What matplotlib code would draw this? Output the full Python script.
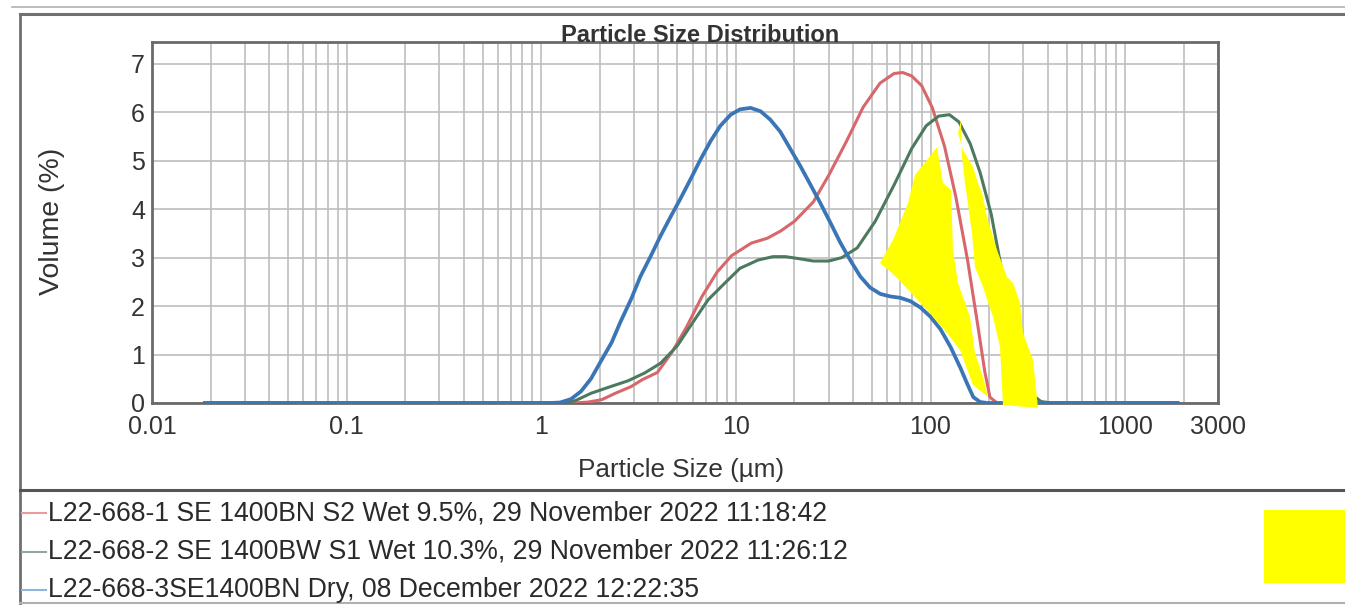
import matplotlib
matplotlib.use("Agg")
import matplotlib.pyplot as plt
from matplotlib.lines import Line2D
from matplotlib.patches import Polygon
from matplotlib.ticker import FixedLocator, NullFormatter

plt.rcParams['font.family'] = ['Liberation Sans', 'DejaVu Sans']

# data (size in um, volume in %)
red_x = [0.0187, 1.40, 1.48, 1.75, 2.05, 2.40, 2.90, 3.30, 3.95, 4.70, 5.60, 6.70, 8.00, 9.50, 12.0, 14.5, 17.0, 20.0, 25.0, 30.0, 37.0, 45.0, 55.0, 65.0, 72.0, 80.0, 90.0, 102.0, 118.0, 135.0, 155.0, 175.0, 190.0, 202.0, 220.0, 1860.0]
red_y = [0.0, 0.0, 0.0, 0.02, 0.07, 0.20, 0.34, 0.48, 0.63, 1.05, 1.58, 2.20, 2.70, 3.04, 3.30, 3.40, 3.55, 3.75, 4.15, 4.70, 5.40, 6.10, 6.60, 6.80, 6.82, 6.75, 6.55, 6.10, 5.30, 4.25, 2.95, 1.60, 0.65, 0.12, 0.0, 0.0]

green_x = [0.0187, 1.30, 1.50, 1.80, 2.20, 2.80, 3.40, 4.10, 5.00, 6.00, 7.20, 8.80, 10.5, 13.0, 15.5, 18.0, 21.0, 25.0, 30.0, 35.0, 42.0, 52.0, 65.0, 80.0, 95.0, 110.0, 125.0, 140.0, 160.0, 180.0, 205.0, 232.0, 260.0, 290.0, 330.0, 370.0, 420.0, 1860.0]
green_y = [0.0, 0.0, 0.05, 0.20, 0.32, 0.46, 0.62, 0.82, 1.18, 1.66, 2.13, 2.48, 2.78, 2.95, 3.02, 3.02, 2.98, 2.93, 2.93, 3.00, 3.20, 3.75, 4.50, 5.25, 5.72, 5.92, 5.95, 5.80, 5.35, 4.75, 3.90, 2.75, 1.60, 0.70, 0.18, 0.03, 0.0, 0.0]

blue_x = [0.0187, 1.10, 1.25, 1.42, 1.60, 1.80, 2.01, 2.30, 2.55, 2.90, 3.23, 3.65, 4.09, 4.60, 5.18, 5.85, 6.57, 7.40, 8.32, 9.40, 10.5, 11.9, 13.4, 15.0, 16.9, 19.0, 21.5, 24.2, 27.2, 30.6, 34.4, 38.8, 43.6, 49.0, 55.3, 62.0, 70.1, 79.0, 88.8, 100.0, 112.6, 127.0, 142.6, 155.0, 166.0, 180.0, 196.0, 1860.0]
blue_y = [0.0, 0.0, 0.01, 0.08, 0.24, 0.50, 0.84, 1.25, 1.67, 2.15, 2.61, 3.03, 3.44, 3.83, 4.21, 4.62, 5.02, 5.40, 5.72, 5.95, 6.06, 6.09, 6.02, 5.85, 5.60, 5.25, 4.88, 4.50, 4.12, 3.72, 3.31, 2.94, 2.61, 2.38, 2.25, 2.20, 2.17, 2.10, 1.97, 1.78, 1.52, 1.15, 0.72, 0.38, 0.12, 0.02, 0.0, 0.0]

series_labels = [
    "L22-668-1 SE 1400BN S2 Wet 9.5%, 29 November 2022 11:18:42",
    "L22-668-2 SE 1400BW S1 Wet 10.3%, 29 November 2022 11:26:12",
    "L22-668-3SE1400BN Dry, 08 December 2022 12:22:35",
]
x_ticks = [0.01, 0.1, 1, 10, 100, 1000, 3000]
x_tick_labels = ["0.01", "0.1", "1", "10", "100", "1000", "3000"]
y_ticks = [0, 1, 2, 3, 4, 5, 6, 7]

W, H = 1345, 605
RED, GREEN, BLUE = '#d8676b', '#4c7a5e', '#3a76b6'

# yellow redaction marks on the scan, in pixel coords of the picture
blob_left = [(880, 263), (893, 240), (908, 203), (915, 175), (927, 160), (937, 147), (943, 183),
             (951, 190), (953, 250), (958, 283), (970, 317), (975, 353), (983, 377), (988, 397),
             (973, 385), (960, 350), (947, 333), (927, 310), (915, 297), (893, 274)]
blob_right = [(961, 120), (958, 133), (963, 150), (973, 167), (978, 183), (982, 193), (987, 217),
              (997, 250), (1007, 277), (1013, 283), (1020, 303), (1023, 333), (1033, 360),
              (1038, 408), (1003, 405), (1000, 347), (993, 317), (983, 287), (975, 267),
              (972, 233), (965, 183), (962, 157)]
box_yellow = [(1264, 510), (1345, 510), (1345, 583), (1264, 583)]


def fx(px):
    return px / W


def fy(py):
    return 1 - py / H


fig = plt.figure(figsize=(W / 100, H / 100), dpi=100)
ax = fig.add_axes([fx(152), fy(403), fx(1218) - fx(152), fy(42) - fy(403)])

ax.plot(red_x, red_y, color=RED, lw=2.2, zorder=3, solid_joinstyle='round')
ax.plot(green_x, green_y, color=GREEN, lw=2.2, zorder=3, solid_joinstyle='round')
ax.plot(blue_x, blue_y, color=BLUE, lw=2.7, zorder=4, solid_joinstyle='round')

ax.set_xscale('log')
ax.set_xlim(0.01, 3000)
ax.set_ylim(0, 7.45)
ax.xaxis.set_major_locator(FixedLocator(x_ticks))
ax.set_xticklabels(x_tick_labels)
minors = [m * 10 ** e for e in range(-2, 4) for m in range(2, 10) if m * 10 ** e < 3000]
ax.xaxis.set_minor_locator(FixedLocator(minors))
ax.xaxis.set_minor_formatter(NullFormatter())
ax.set_yticks(y_ticks)
ax.grid(True, which='both', axis='x', color='#bebebe', lw=1.2)
ax.grid(True, which='major', axis='y', color='#bebebe', lw=1.2)
ax.tick_params(axis='both', which='both', length=0, labelsize=18, colors='#333333')
ax.tick_params(axis='x', pad=9)
ax.tick_params(axis='y', pad=5)
for s in ax.spines.values():
    s.set_color('#6a6a6a')
    s.set_linewidth(2)

fig.text(fx(700), fy(36), "Particle Size Distribution", ha='center', va='center',
         fontsize=17, fontweight='bold', color='#333333')
fig.text(fx(681), fy(470), "Particle Size (µm)", ha='center', va='center', fontsize=18.8, color='#333333')
fig.text(fx(52), fy(221), "Volume (%)", ha='center', va='center', rotation=90, fontsize=20.5, color='#333333')

# outer frame of the report
frame = [((12, 7), (1345, 7), '#b0b0b0', 1.2),
         ((20, 14), (1345, 14), '#707070', 2.2),
         ((20, 14), (20, 603), '#707070', 2.0),
         ((20, 490), (1345, 490), '#555555', 2.2),
         ((20, 603), (1345, 603), '#b0b0b0', 1.5)]
for (x0, y0), (x1, y1), c, lw in frame:
    fig.add_artist(Line2D([fx(x0), fx(x1)], [fy(y0), fy(y1)], color=c, lw=lw))

# legend rows
for i, (lab, c) in enumerate(zip(series_labels, ['#e89a9c', '#8fa898', '#8fb5dc'])):
    yy = 513 + i * 38.5
    fig.add_artist(Line2D([fx(22), fx(46)], [fy(yy), fy(yy)], color=c, lw=1.5))
    fig.text(fx(48), fy(yy), lab, ha='left', va='center', fontsize=19.2, color='#2a2a2a')

for pts in (blob_left, blob_right, box_yellow):
    fig.add_artist(Polygon([(fx(a), fy(b)) for a, b in pts], closed=True,
                           facecolor='#ffff00', edgecolor='none', transform=fig.transFigure, zorder=10))

fig.savefig("out.png", dpi=100)
